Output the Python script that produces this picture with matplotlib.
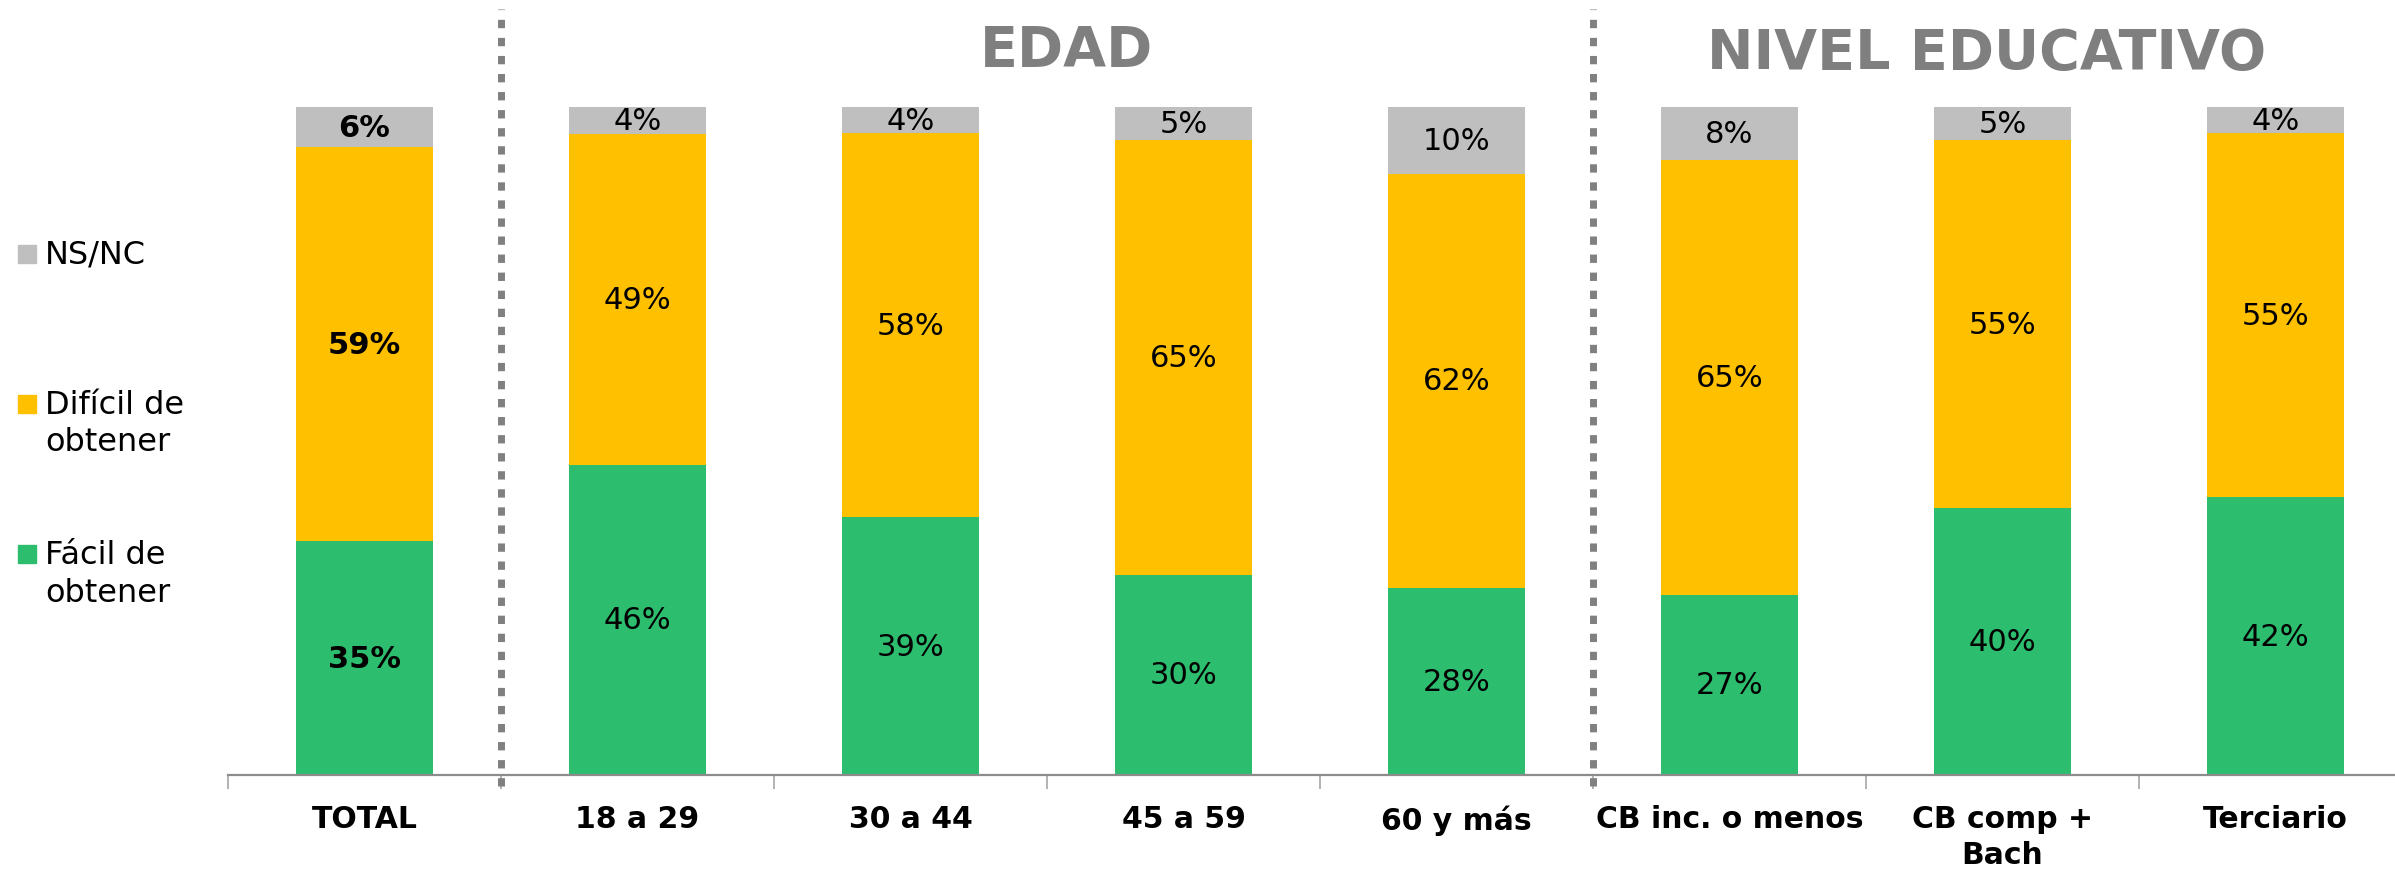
import matplotlib
matplotlib.use("Agg")
import matplotlib.pyplot as plt
from matplotlib.patches import Rectangle
import numpy as np

plt.rcParams['font.family'] = ['DejaVu Sans']

categories = ["TOTAL", "18 a 29", "30 a 44", "45 a 59", "60 y más",
              "CB inc. o menos", "CB comp +\nBach", "Terciario"]
facil = [35, 46, 39, 30, 28, 27, 40, 42]
dificil = [59, 49, 58, 65, 62, 65, 55, 55]
nsnc = [6, 4, 4, 5, 10, 8, 5, 4]
series_names = ["Fácil de\nobtener", "Difícil de\nobtener", "NS/NC"]
group_titles = ["EDAD", "NIVEL EDUCATIVO"]

GREEN = "#2DBD6E"
YELLOW = "#FFC000"
GRAY = "#BFBFBF"
colors = [GREEN, YELLOW, GRAY]

W, H = 2395, 870
fig = plt.figure(figsize=(W / 100, H / 100), dpi=100)
step = 273
ax = fig.add_axes([228 / W, 94 / H, 8 * step / W, 776 / H])

vals = np.array([facil, dificil, nsnc], dtype=float)
totals = vals.sum(axis=0)
fracs = vals / totals
x = np.arange(len(categories))
bottom = np.zeros(len(categories))
for i in range(3):
    ax.bar(x, fracs[i], 0.5, bottom=bottom, color=colors[i], linewidth=0)
    for j in range(len(categories)):
        weight = 'bold' if j == 0 else 'normal'
        ax.text(x[j], bottom[j] + fracs[i][j] / 2, f"{int(vals[i][j])}%",
                ha='center', va='center', fontsize=22, color='black',
                fontweight=weight)
    bottom += fracs[i]

ax.set_xlim(-0.5, 7.5)
ax.set_ylim(0, 776 / 668)

for s in ['left', 'right', 'top']:
    ax.spines[s].set_visible(False)
ax.spines['bottom'].set_color('#8C8C8C')
ax.spines['bottom'].set_linewidth(1.6)
ax.set_yticks([])
ax.set_xticks(x)
ax.set_xticklabels(categories, fontsize=21.5, fontweight='bold', linespacing=1.3)
ax.tick_params(axis='x', which='major', length=0, pad=21)
ax.set_xticks(np.arange(-0.5, 8, 1), minor=True)
ax.tick_params(axis='x', which='minor', length=10, width=1.2, color='#A6A6A6')

# separators
for sx in [0.5, 4.5]:
    ax.plot([sx, sx], [-0.017, 1.147], color='#808080', lw=5,
            linestyle=(0, (1.2, 1.4)), dash_capstyle='butt', clip_on=False)

# group titles
ax.text(2.57, 1.085, group_titles[0], ha='center', va='center', fontsize=40,
        fontweight='bold', color='#7F7F7F')
ax.text(5.94, 1.081, group_titles[1], ha='center', va='center', fontsize=40,
        fontweight='bold', color='#7F7F7F')

# legend (manual)
leg_items = [(2, 255, [255]), (1, 405, [405, 443]), (0, 555, [555, 593])]
for idx, sy, lines in leg_items:
    fig.patches.append(Rectangle((18 / W, (H - sy - 9) / H), 18 / W, 18 / H,
                                 transform=fig.transFigure, color=colors[idx]))
    parts = series_names[idx].split("\n")
    for txt, ly in zip(parts, lines):
        fig.text(45 / W, (H - ly) / H, txt, ha='left', va='center',
                 fontsize=23, color='black')

fig.savefig("out.png", dpi=100)
